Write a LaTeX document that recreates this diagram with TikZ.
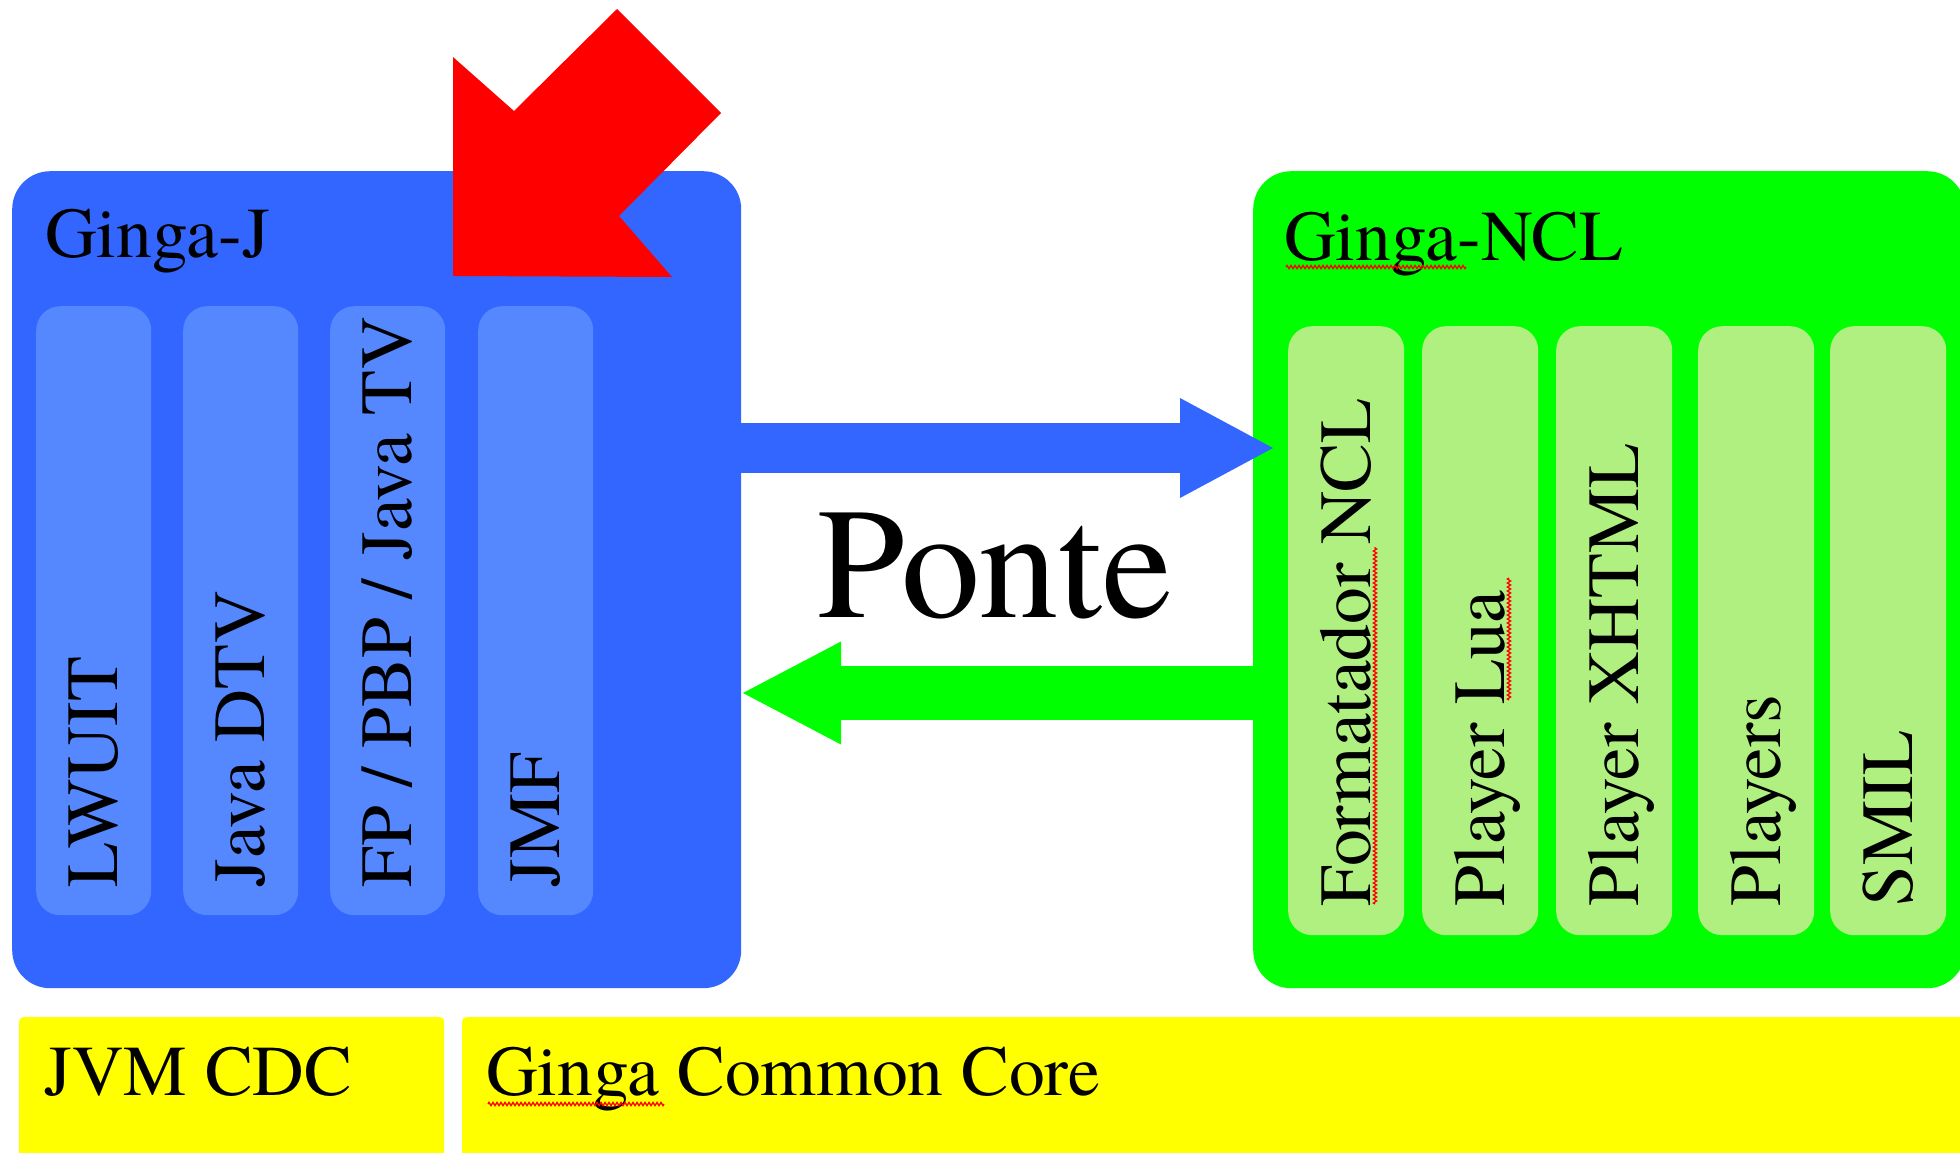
\documentclass[tikz,border=0pt]{standalone}
\usepackage{fontspec}
\setmainfont{texgyretermes-regular.otf}[BoldFont=texgyretermes-bold.otf]
\usetikzlibrary{calc, arrows.meta, decorations.pathmorphing}

\definecolor{gjblue}{HTML}{3366FF}
\definecolor{gjcol}{HTML}{5588FF}
\definecolor{nclgreen}{HTML}{00FF00}
\definecolor{nclcol}{HTML}{B0F080}
\definecolor{coreyellow}{HTML}{FFFF00}

\begin{document}
\begin{tikzpicture}[x=1pt, y=-1pt,
    panel/.style={rounded corners=38pt, inner sep=0pt, anchor=north west},
    colj/.style={fill=gjcol, rounded corners=24pt, inner sep=0pt, anchor=north west,
        minimum width=115pt, minimum height=609pt},
    colncl/.style={fill=nclcol, rounded corners=24pt, inner sep=0pt, anchor=north west,
        minimum width=116pt, minimum height=609pt},
    collabel/.style={rotate=90, anchor=base west, inner sep=0pt,
        font=\fontsize{73.5}{80}\selectfont},
    title/.style={anchor=base west, inner sep=0pt, font=\fontsize{71.5}{80}\selectfont},
    corebox/.style={fill=coreyellow, rounded corners=4pt, inner sep=0pt, anchor=north west,
        minimum height=143pt},
    ponte/.style={anchor=base, inner sep=0pt, font=\fontsize{158}{170}\selectfont},
    toj/.style={draw=gjblue, line width=50pt,
        -{Triangle[length=93pt, width=100pt, line width=0pt]}},
    fromncl/.style={draw=nclgreen, line width=54pt,
        -{Triangle[length=98pt, width=103pt, line width=0pt]}},
    spell/.style={draw=red, line width=1.3pt, decorate,
        decoration={zigzag, segment length=4pt, amplitude=1.6pt}}]
    \useasboundingbox (0,0) rectangle (1960,1152);
    \clip (0,0) rectangle (1960,1152);

    % Ginga-J
    \node[panel, fill=gjblue, minimum width=729pt, minimum height=817pt] (gingaj) at (12,171) {};
    \node[title] (gingaj-txt) at (45,257) {Ginga-J};
    \foreach \name/\left/\txt in {lwuit/36/LWUIT, javadtv/183/Java DTV,
            fppbp/330/{FP / PBP / Java TV}, jmf/478/JMF} {
        \node[colj] (\name) at (\left,306) {};
        \node[collabel] (\name-txt) at ($(\name.south)+(24,-28)$) {\txt};
    }

    % Ginga-NCL
    \node[panel, fill=nclgreen, minimum width=712pt, minimum height=817pt] (gingancl) at (1253,171) {};
    \node[title] (gingancl-txt) at (1284,260) {Ginga-NCL};
    \foreach \name/\left/\txt in {formatador/1288/Formatador NCL, lua/1422/Player Lua,
            xhtml/1556/Player XHTML, players/1698/Players, smil/1830/SMIL} {
        \node[colncl] (\name) at (\left,326) {};
        \node[collabel] (\name-txt) at ($(\name.south)+(24,-29)$) {\txt};
    }

    % spelling marks
    \draw[spell] (1286,267) -- (1466,267);
    \draw[spell] (1375,904) -- (1375,547);
    \draw[spell] (1509,700) -- (1509,578);

    % Ponte arrows
    \coordinate (bluetip) at (1273,448);
    \coordinate (greentip) at (743,693);
    \draw[toj] (gingaj.east |- bluetip) -- (bluetip);
    \draw[fromncl] (gingancl.west |- greentip) -- (greentip);

    % Ponte
    \node[ponte] (ponte) at (995,617) {Ponte};

    % red pointer
    \fill[red] (617,9) -- (721,113) -- (619,216) -- (672,277) -- (453,276)
        -- (453,57) -- (514,111) -- cycle;

    % common core
    \node[corebox, minimum width=425pt] (jvm) at (19,1017) {};
    \node[title] (jvm-txt) at (44,1095) {JVM CDC};
    \node[corebox, minimum width=1520pt] (core) at (462,1017) {};
    \node[title] (core-txt) at (486,1095) {Ginga Common Core};
    \draw[spell] (488,1104) -- (664,1104);
\end{tikzpicture}
\end{document}
